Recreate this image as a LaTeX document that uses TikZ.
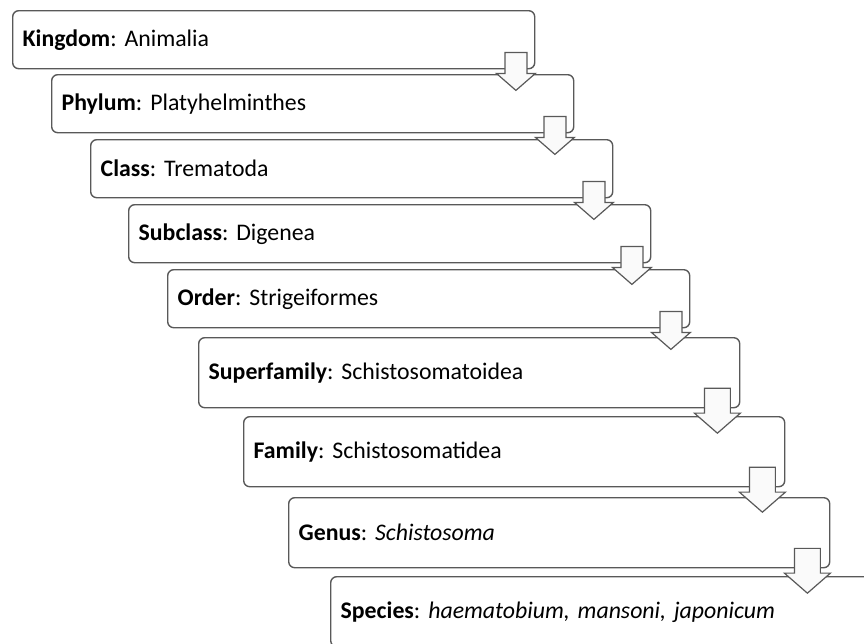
\documentclass[tikz,border=0pt]{standalone}
\usepackage{fontspec}
\setmainfont{Carlito}
\usetikzlibrary{positioning}

\definecolor{boxgray}{HTML}{595959}
\frenchspacing

\begin{document}
\begin{tikzpicture}[
x=1pt, y=-1pt,
rank/.style={rectangle, draw=boxgray, line width=1.4pt, rounded corners=6pt, anchor=north west, align=left, inner xsep=10pt, inner ysep=0pt, font=\fontsize{23.8}{28}\selectfont, minimum height=58pt, text width=502pt},
widerank/.style={rank, minimum height=70pt, text width=521pt},
downarr/.style={draw=boxgray, fill=gray!4, line width=1.2pt, line join=miter}
]
\useasboundingbox (0,0) rectangle (864,643);
\clip (0,0) rectangle (864,643);

\node[rank] (kingdom) at (12,10) {\textbf{Kingdom}: Animalia};
\node[rank] (phylum) at (51,74) {\textbf{Phylum}: Platyhelminthes};
\node[rank] (class) at (90,139) {\textbf{Class}: Trematoda};
\node[rank] (subclass) at (128,204) {\textbf{Subclass}: Digenea};
\node[rank] (order) at (167,269) {\textbf{Order}: Strigeiformes};
\node[widerank] (superfamily) at (198,337) {\textbf{Superfamily}: Schistosomatoidea};
\node[widerank] (family) at (243,416) {\textbf{Family}: Schistosomatidea};
\node[widerank] (genus) at (288,497) {\textbf{Genus}: \textit{Schistosoma}};
\node[widerank] (species) at (330,576) {\textbf{Species}: \textit{haematobium, mansoni, japonicum}};

% block arrows from each rank to the next
\foreach \n/\s in {kingdom/1, phylum/1, class/1, subclass/1, order/1, superfamily/1.18, family/1.18, genus/1.18}
  \draw[downarr, shift={(\n.south east)}, scale=\s]
    (-30.5,-17) -- (-8.5,-17) -- (-8.5,4) -- (0,4) -- (-19.5,21) -- (-39,4) -- (-30.5,4) -- cycle;
\end{tikzpicture}
\end{document}
